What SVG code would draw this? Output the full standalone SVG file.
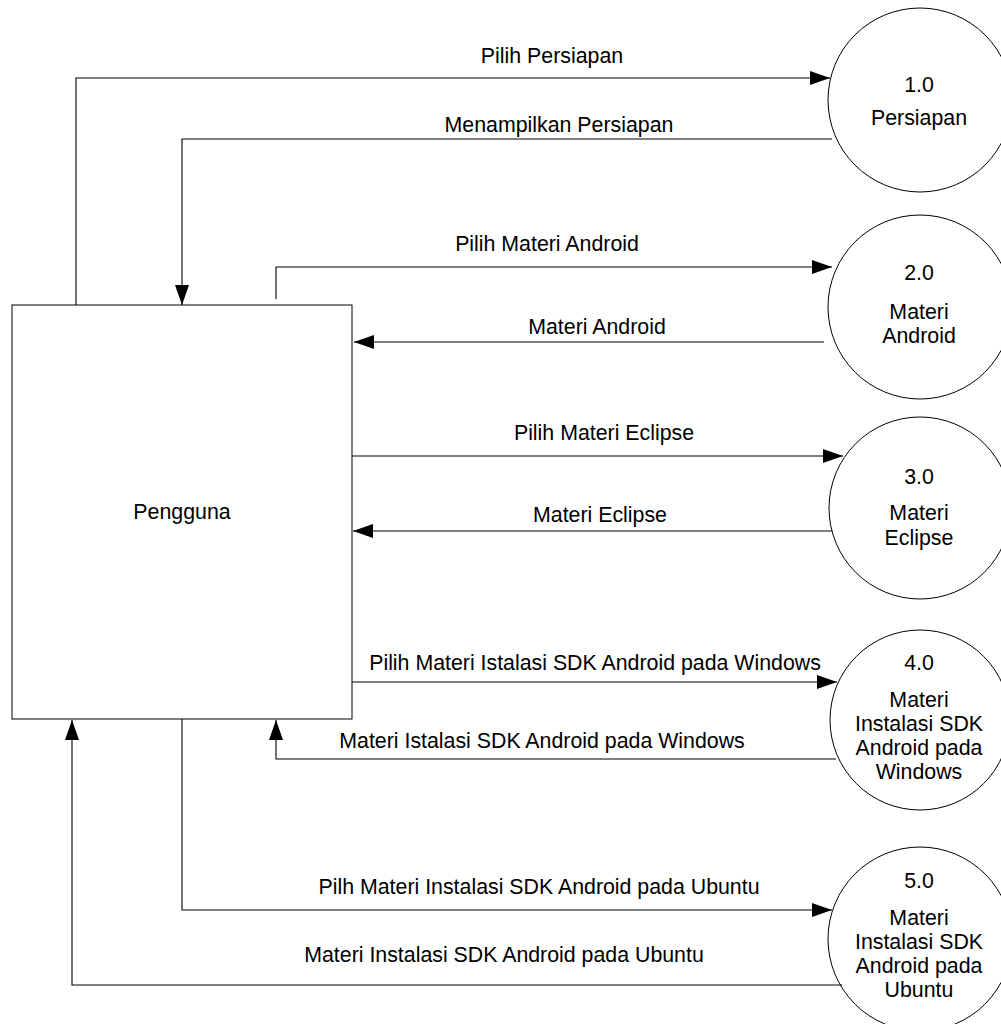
<svg xmlns="http://www.w3.org/2000/svg" width="1001" height="1024" viewBox="0 0 1001 1024">
<style>
text{font-family:"Liberation Sans",Arial,sans-serif;font-size:21.33px;fill:#000;text-anchor:middle}
.node{fill:#fff;stroke:#000;stroke-width:1}
.flow{fill:none;stroke:#000;stroke-width:1.1}
</style>
<defs>
<marker id="arr" viewBox="0 0 20 14" refX="20" refY="7" markerWidth="20" markerHeight="14" markerUnits="userSpaceOnUse" orient="auto">
<path d="M0,0 L20,7 L0,14 Z" fill="#000"/>
</marker>
</defs>
<rect width="1001" height="1024" fill="#fff"/>
<g id="pengguna">
<rect class="node" x="12" y="305" width="340" height="414"/>
<text x="182" y="519">Pengguna</text>
</g>
<g id="p1">
<circle class="node" cx="920" cy="100" r="92"/>
<text x="919" y="92">1.0</text>
<text x="919" y="125">Persiapan</text>
</g>
<g id="p2">
<circle class="node" cx="920" cy="307" r="92"/>
<text x="919" y="280">2.0</text>
<text x="919" y="319">Materi</text>
<text x="919" y="343">Android</text>
</g>
<g id="p3">
<circle class="node" cx="920" cy="508" r="91"/>
<text x="919" y="484">3.0</text>
<text x="919" y="520">Materi</text>
<text x="919" y="545">Eclipse</text>
</g>
<g id="p4">
<circle class="node" cx="920" cy="720" r="90"/>
<text x="919" y="670">4.0</text>
<text x="919" y="707">Materi</text>
<text x="919" y="731">Instalasi SDK</text>
<text x="919" y="755">Android pada</text>
<text x="919" y="779">Windows</text>
</g>
<g id="p5">
<circle class="node" cx="920" cy="939" r="92"/>
<text x="919" y="888">5.0</text>
<text x="919" y="925">Materi</text>
<text x="919" y="949">Instalasi SDK</text>
<text x="919" y="973">Android pada</text>
<text x="919" y="997">Ubuntu</text>
</g>
<g id="connectors">
<polyline class="flow" points="76,305 76,78 830,78" marker-end="url(#arr)"/>
<polyline class="flow" points="832,139 182,139 182,305" marker-end="url(#arr)"/>
<polyline class="flow" points="276,299 276,267 832,267" marker-end="url(#arr)"/>
<polyline class="flow" points="824,342 354,342" marker-end="url(#arr)"/>
<polyline class="flow" points="352,456 843,456" marker-end="url(#arr)"/>
<polyline class="flow" points="832,531 353,531" marker-end="url(#arr)"/>
<polyline class="flow" points="352,682 837,682" marker-end="url(#arr)"/>
<polyline class="flow" points="836,759 276,759 276,720" marker-end="url(#arr)"/>
<polyline class="flow" points="182,719 182,910 832,910" marker-end="url(#arr)"/>
<polyline class="flow" points="842,985 72,985 72,720" marker-end="url(#arr)"/>
<text x="552" y="63">Pilih Persiapan</text>
<text x="559" y="132">Menampilkan Persiapan</text>
<text x="547" y="251">Pilih Materi Android</text>
<text x="597" y="334">Materi Android</text>
<text x="604" y="440">Pilih Materi Eclipse</text>
<text x="600" y="522">Materi Eclipse</text>
<text x="595" y="670">Pilih Materi Istalasi SDK Android pada Windows</text>
<text x="542" y="748">Materi Istalasi SDK Android pada Windows</text>
<text x="539" y="894">Pilh Materi Instalasi SDK Android pada Ubuntu</text>
<text x="504" y="962">Materi Instalasi SDK Android pada Ubuntu</text>
</g>
</svg>
